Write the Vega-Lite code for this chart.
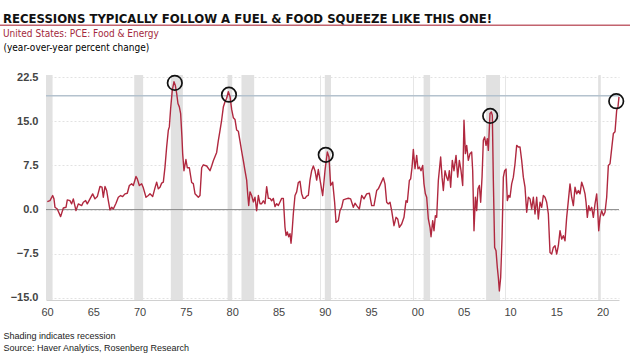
{
  "$schema": "https://vega.github.io/schema/vega-lite/v6.json",
  "autosize": {"type": "none"},
  "width": 573,
  "height": 225,
  "padding": {"left": 46, "top": 75, "right": 11, "bottom": 53},
  "background": "white",
  "config": {
    "view": {"stroke": null},
    "font": "Liberation Sans"
  },
  "title": {
    "text": "RECESSIONS TYPICALLY FOLLOW A FUEL & FOOD SQUEEZE LIKE THIS ONE!",
    "subtitle": "United States: PCE: Food & Energy",
    "anchor": "start",
    "frame": "group",
    "dx": -43,
    "dy": -3,
    "offset": -18,
    "font": "DejaVu Sans Condensed, Roboto, sans-serif",
    "fontSize": 13,
    "fontWeight": "bold",
    "color": "#111111",
    "subtitleFont": "DejaVu Sans Condensed, Roboto, sans-serif",
    "subtitleFontSize": 10,
    "subtitleColor": "#a3283c",
    "subtitlePadding": 3
  },
  "datasets": {
    "pce": [
      {"t": 1960.53, "v": 1.36}, {"t": 1960.82, "v": 1.53}, {"t": 1961.11, "v": 2.39}, {"t": 1961.25, "v": 1.82},
      {"t": 1961.36, "v": 0.39}, {"t": 1961.61, "v": 0.11}, {"t": 1961.97, "v": -1.19}, {"t": 1962.26, "v": 0.28},
      {"t": 1962.55, "v": 0.39}, {"t": 1962.69, "v": 1.65}, {"t": 1962.98, "v": 1.53}, {"t": 1963.16, "v": 0.97},
      {"t": 1963.34, "v": 1.82}, {"t": 1963.63, "v": -0.17}, {"t": 1963.88, "v": 0.97}, {"t": 1964.24, "v": 0.68},
      {"t": 1964.42, "v": 1.25}, {"t": 1964.67, "v": 1.53}, {"t": 1964.85, "v": 0.97}, {"t": 1965.14, "v": 1.82},
      {"t": 1965.43, "v": 2.67}, {"t": 1965.68, "v": 1.82}, {"t": 1965.93, "v": 2.21}, {"t": 1966.22, "v": 3.92},
      {"t": 1966.44, "v": 3.8}, {"t": 1966.58, "v": 2.1}, {"t": 1966.76, "v": 3.92}, {"t": 1966.94, "v": 3.24},
      {"t": 1967.12, "v": 1.53}, {"t": 1967.3, "v": -0.06}, {"t": 1967.48, "v": 0.39}, {"t": 1967.66, "v": 0.11},
      {"t": 1967.95, "v": 1.08}, {"t": 1968.2, "v": 2.1}, {"t": 1968.45, "v": 2.39}, {"t": 1968.67, "v": 2.21},
      {"t": 1968.92, "v": 2.67}, {"t": 1969.17, "v": 2.78}, {"t": 1969.39, "v": 4.09}, {"t": 1969.64, "v": 4.37},
      {"t": 1969.82, "v": 4.09}, {"t": 1970.11, "v": 5.62}, {"t": 1970.25, "v": 5.22}, {"t": 1970.47, "v": 4.09},
      {"t": 1970.72, "v": 4.37}, {"t": 1970.9, "v": 3.69}, {"t": 1971.19, "v": 2.1}, {"t": 1971.44, "v": 2.39},
      {"t": 1971.62, "v": 2.67}, {"t": 1971.91, "v": 2.21}, {"t": 1972.16, "v": 3.69}, {"t": 1972.34, "v": 4.66},
      {"t": 1972.52, "v": 3.52}, {"t": 1972.7, "v": 3.8}, {"t": 1972.88, "v": 4.49}, {"t": 1973.06, "v": 4.66},
      {"t": 1973.24, "v": 7.21}, {"t": 1973.42, "v": 10.62}, {"t": 1973.6, "v": 13.46}, {"t": 1973.71, "v": 14.03},
      {"t": 1973.85, "v": 17.15}, {"t": 1974.03, "v": 20.27}, {"t": 1974.21, "v": 21.69}, {"t": 1974.35, "v": 21.12},
      {"t": 1974.5, "v": 19.71}, {"t": 1974.64, "v": 18.0}, {"t": 1974.79, "v": 17.43}, {"t": 1974.93, "v": 16.3},
      {"t": 1975.07, "v": 12.32}, {"t": 1975.15, "v": 9.5}, {"t": 1975.29, "v": 6.6}, {"t": 1975.5, "v": 8.5},
      {"t": 1975.65, "v": 7.1}, {"t": 1975.87, "v": 7.1}, {"t": 1976.12, "v": 4.6}, {"t": 1976.3, "v": 4.4},
      {"t": 1976.48, "v": 2.7}, {"t": 1976.84, "v": 2.1}, {"t": 1977.02, "v": 2.4}, {"t": 1977.2, "v": 7.1},
      {"t": 1977.38, "v": 7.6}, {"t": 1977.74, "v": 7.4}, {"t": 1978.1, "v": 6.6}, {"t": 1978.28, "v": 7.4},
      {"t": 1978.46, "v": 8.3}, {"t": 1978.82, "v": 9.7}, {"t": 1979.0, "v": 11.7}, {"t": 1979.18, "v": 13.4},
      {"t": 1979.36, "v": 15.2}, {"t": 1979.54, "v": 17.4}, {"t": 1979.72, "v": 18.3}, {"t": 1979.9, "v": 18.9},
      {"t": 1980.08, "v": 20.0}, {"t": 1980.26, "v": 19.2}, {"t": 1980.44, "v": 17.0}, {"t": 1980.62, "v": 15.6},
      {"t": 1980.8, "v": 15.3}, {"t": 1980.98, "v": 13.5}, {"t": 1981.16, "v": 13.3}, {"t": 1981.34, "v": 11.6},
      {"t": 1981.52, "v": 9.9}, {"t": 1981.7, "v": 8.3}, {"t": 1981.88, "v": 6.6}, {"t": 1982.06, "v": 5.0},
      {"t": 1982.17, "v": 2.7}, {"t": 1982.28, "v": 0.7}, {"t": 1982.42, "v": 3.0}, {"t": 1982.6, "v": 2.4},
      {"t": 1982.78, "v": 1.3}, {"t": 1982.96, "v": 2.1}, {"t": 1983.14, "v": -0.2}, {"t": 1983.32, "v": 2.4},
      {"t": 1983.5, "v": 1.0}, {"t": 1983.68, "v": 1.0}, {"t": 1983.86, "v": 1.5}, {"t": 1984.04, "v": 1.0},
      {"t": 1984.22, "v": 3.9}, {"t": 1984.4, "v": 1.9}, {"t": 1984.58, "v": 1.9}, {"t": 1984.76, "v": 1.5},
      {"t": 1984.94, "v": 1.9}, {"t": 1985.12, "v": 0.5}, {"t": 1985.3, "v": 1.0}, {"t": 1985.48, "v": 0.7},
      {"t": 1985.66, "v": 1.3}, {"t": 1985.84, "v": 1.9}, {"t": 1986.02, "v": 1.9}, {"t": 1986.2, "v": -3.0},
      {"t": 1986.31, "v": -4.4}, {"t": 1986.45, "v": -3.8}, {"t": 1986.6, "v": -4.6}, {"t": 1986.74, "v": -4.1},
      {"t": 1986.85, "v": -5.7}, {"t": 1986.95, "v": -4.1}, {"t": 1987.1, "v": -0.7}, {"t": 1987.28, "v": 2.4},
      {"t": 1987.46, "v": 3.0}, {"t": 1987.64, "v": 4.6}, {"t": 1987.82, "v": 4.8}, {"t": 1988.0, "v": 2.7},
      {"t": 1988.18, "v": 1.9}, {"t": 1988.36, "v": 1.9}, {"t": 1988.54, "v": 2.3}, {"t": 1988.72, "v": 2.4},
      {"t": 1988.9, "v": 5.0}, {"t": 1989.08, "v": 6.6}, {"t": 1989.26, "v": 7.4}, {"t": 1989.44, "v": 6.6},
      {"t": 1989.62, "v": 5.0}, {"t": 1989.8, "v": 6.8}, {"t": 1989.98, "v": 5.1}, {"t": 1990.27, "v": 2.39},
      {"t": 1990.52, "v": 6.6}, {"t": 1990.77, "v": 9.77}, {"t": 1990.95, "v": 8.92}, {"t": 1991.13, "v": 4.09},
      {"t": 1991.35, "v": 4.66}, {"t": 1991.56, "v": 1.25}, {"t": 1991.71, "v": -2.16}, {"t": 1991.96, "v": -1.87},
      {"t": 1992.14, "v": -0.17}, {"t": 1992.32, "v": 0.39}, {"t": 1992.5, "v": 1.65}, {"t": 1992.79, "v": 1.82},
      {"t": 1993.04, "v": 1.93}, {"t": 1993.29, "v": 1.82}, {"t": 1993.58, "v": 0.39}, {"t": 1993.76, "v": 1.08},
      {"t": 1993.94, "v": 0.68}, {"t": 1994.23, "v": 0.11}, {"t": 1994.48, "v": 2.39}, {"t": 1994.73, "v": 1.82},
      {"t": 1995.02, "v": 2.67}, {"t": 1995.31, "v": 2.78}, {"t": 1995.56, "v": 0.68}, {"t": 1995.81, "v": 0.68},
      {"t": 1996.1, "v": 3.24}, {"t": 1996.28, "v": 3.52}, {"t": 1996.53, "v": 4.37}, {"t": 1996.82, "v": 5.4},
      {"t": 1997.0, "v": 4.37}, {"t": 1997.18, "v": 1.25}, {"t": 1997.36, "v": 0.97}, {"t": 1997.54, "v": 1.25},
      {"t": 1997.72, "v": -0.17}, {"t": 1997.97, "v": -2.73}, {"t": 1998.19, "v": -1.31}, {"t": 1998.37, "v": -1.59},
      {"t": 1998.55, "v": -3.0}, {"t": 1998.8, "v": -2.44}, {"t": 1999.05, "v": -1.31}, {"t": 1999.27, "v": 1.53},
      {"t": 1999.41, "v": 1.25}, {"t": 1999.63, "v": 4.94}, {"t": 1999.77, "v": 5.22}, {"t": 1999.92, "v": 7.21},
      {"t": 2000.06, "v": 10.22}, {"t": 2000.24, "v": 6.93}, {"t": 2000.42, "v": 9.2}, {"t": 2000.56, "v": 6.93},
      {"t": 2000.71, "v": 7.21}, {"t": 2000.89, "v": 6.6}, {"t": 2001.07, "v": 7.5}, {"t": 2001.21, "v": 4.37},
      {"t": 2001.36, "v": 2.67}, {"t": 2001.5, "v": 2.1}, {"t": 2001.68, "v": -1.59}, {"t": 2001.86, "v": -3.0},
      {"t": 2001.97, "v": -4.6}, {"t": 2002.15, "v": -1.87}, {"t": 2002.29, "v": -3.58}, {"t": 2002.44, "v": -1.02},
      {"t": 2002.58, "v": -1.31}, {"t": 2002.76, "v": 4.94}, {"t": 2003.01, "v": 8.92}, {"t": 2003.16, "v": 5.51},
      {"t": 2003.3, "v": 3.24}, {"t": 2003.48, "v": 6.6}, {"t": 2003.66, "v": 5.51}, {"t": 2003.8, "v": 4.94},
      {"t": 2003.95, "v": 6.6}, {"t": 2004.09, "v": 3.8}, {"t": 2004.27, "v": 8.35}, {"t": 2004.45, "v": 6.6},
      {"t": 2004.67, "v": 9.2}, {"t": 2004.85, "v": 5.51}, {"t": 2005.03, "v": 8.35}, {"t": 2005.21, "v": 6.6},
      {"t": 2005.39, "v": 4.09}, {"t": 2005.53, "v": 15.16}, {"t": 2005.68, "v": 9.49}, {"t": 2005.82, "v": 10.9},
      {"t": 2006.0, "v": 8.35}, {"t": 2006.18, "v": 9.49}, {"t": 2006.36, "v": 9.77}, {"t": 2006.47, "v": 6.6},
      {"t": 2006.61, "v": -3.58}, {"t": 2006.76, "v": 2.1}, {"t": 2006.9, "v": -0.17}, {"t": 2007.04, "v": 3.52},
      {"t": 2007.19, "v": 4.09}, {"t": 2007.33, "v": 1.25}, {"t": 2007.48, "v": 5.51}, {"t": 2007.62, "v": 11.75},
      {"t": 2007.76, "v": 12.32}, {"t": 2007.91, "v": 10.9}, {"t": 2008.05, "v": 12.03}, {"t": 2008.16, "v": 10.05},
      {"t": 2008.34, "v": 16.3}, {"t": 2008.48, "v": 16.58}, {"t": 2008.59, "v": 16.0}, {"t": 2008.7, "v": 4.94},
      {"t": 2008.84, "v": -6.42}, {"t": 2008.99, "v": -7.0}, {"t": 2009.13, "v": -9.82}, {"t": 2009.24, "v": -11.53},
      {"t": 2009.35, "v": -13.8}, {"t": 2009.49, "v": -11.53}, {"t": 2009.64, "v": -4.71}, {"t": 2009.78, "v": 5.51},
      {"t": 2009.92, "v": 6.6}, {"t": 2010.07, "v": 6.87}, {"t": 2010.21, "v": 1.53}, {"t": 2010.36, "v": 2.39},
      {"t": 2010.5, "v": 2.1}, {"t": 2010.68, "v": 4.37}, {"t": 2010.86, "v": 5.51}, {"t": 2011.04, "v": 7.78},
      {"t": 2011.22, "v": 10.9}, {"t": 2011.4, "v": 10.62}, {"t": 2011.58, "v": 10.62}, {"t": 2011.76, "v": 8.35},
      {"t": 2011.94, "v": 5.51}, {"t": 2012.12, "v": 3.8}, {"t": 2012.3, "v": -0.45}, {"t": 2012.48, "v": 2.1},
      {"t": 2012.66, "v": 1.82}, {"t": 2012.84, "v": 0.11}, {"t": 2013.02, "v": 2.1}, {"t": 2013.2, "v": -0.74},
      {"t": 2013.38, "v": 2.1}, {"t": 2013.56, "v": -1.59}, {"t": 2013.74, "v": 1.25}, {"t": 2013.92, "v": 0.39},
      {"t": 2014.1, "v": 2.39}, {"t": 2014.28, "v": 2.1}, {"t": 2014.46, "v": 1.25}, {"t": 2014.64, "v": -0.74},
      {"t": 2014.82, "v": -7.27}, {"t": 2015.0, "v": -7.55}, {"t": 2015.18, "v": -6.42}, {"t": 2015.36, "v": -6.13},
      {"t": 2015.54, "v": -7.55}, {"t": 2015.72, "v": -6.13}, {"t": 2015.9, "v": -3.58}, {"t": 2016.08, "v": -5.0},
      {"t": 2016.26, "v": -4.43}, {"t": 2016.44, "v": -5.28}, {"t": 2016.62, "v": -1.31}, {"t": 2016.8, "v": 1.53},
      {"t": 2016.98, "v": 4.37}, {"t": 2017.16, "v": 2.1}, {"t": 2017.34, "v": 0.68}, {"t": 2017.52, "v": 3.8},
      {"t": 2017.7, "v": 2.67}, {"t": 2017.88, "v": 3.24}, {"t": 2018.06, "v": 2.67}, {"t": 2018.24, "v": 4.66},
      {"t": 2018.42, "v": 3.8}, {"t": 2018.6, "v": 2.67}, {"t": 2018.71, "v": 1.25}, {"t": 2018.85, "v": -1.31},
      {"t": 2019.0, "v": 0.68}, {"t": 2019.14, "v": -0.17}, {"t": 2019.32, "v": 0.39}, {"t": 2019.5, "v": -1.31},
      {"t": 2019.68, "v": 0.97}, {"t": 2019.86, "v": 2.67}, {"t": 2019.97, "v": -0.17}, {"t": 2020.08, "v": -3.58},
      {"t": 2020.22, "v": -1.31}, {"t": 2020.4, "v": -0.17}, {"t": 2020.58, "v": -1.02}, {"t": 2020.76, "v": -0.45},
      {"t": 2020.94, "v": 2.1}, {"t": 2021.12, "v": 7.5}, {"t": 2021.3, "v": 7.78}, {"t": 2021.48, "v": 10.34},
      {"t": 2021.66, "v": 12.9}, {"t": 2021.84, "v": 13.2}, {"t": 2022.02, "v": 16.87}, {"t": 2022.16, "v": 17.43},
      {"t": 2022.27, "v": 19.14}
    ],
    "recessions": [
      {"start": 1960.39, "end": 1961.1},
      {"start": 1969.92, "end": 1970.88},
      {"start": 1973.87, "end": 1975.17},
      {"start": 1980.0, "end": 1980.5},
      {"start": 1981.5, "end": 1982.87},
      {"start": 1990.5, "end": 1991.17},
      {"start": 2001.17, "end": 2001.87},
      {"start": 2007.92, "end": 2009.42},
      {"start": 2020.08, "end": 2020.3}
    ],
    "peaks": [
      {"t": 1974.3, "v": 21.5},
      {"t": 1980.15, "v": 19.5},
      {"t": 1990.6, "v": 9.3},
      {"t": 2008.36, "v": 15.9},
      {"t": 2021.97, "v": 18.4}
    ]
  },
  "resolve": {"axis": {"x": "independent", "y": "independent"}},
  "layer": [
    {
      "data": {"name": "recessions"},
      "mark": {"type": "rect", "color": "#e1e1e1"},
      "encoding": {
        "x": {
          "field": "start", "type": "quantitative",
          "scale": {"domain": [1960.39, 2022.27], "nice": false, "zero": false},
          "axis": {
            "orient": "top", "values": [1970, 1980, 1990, 2000, 2010, 2020],
            "grid": true, "gridColor": "#e6e6e6", "gridWidth": 1,
            "labels": false, "ticks": false, "domain": false, "title": null
          }
        },
        "x2": {"field": "end"}
      }
    },
    {
      "data": {"values": [{}]},
      "mark": {"type": "rule", "color": "#888888", "strokeWidth": 1},
      "encoding": {
        "y": {"datum": 0, "type": "quantitative", "scale": {"domain": [-15.34, 22.84], "nice": false, "zero": false}, "axis": null}
      }
    },
    {
      "data": {"values": [{}]},
      "mark": {"type": "rule", "color": "#b4c2ce", "strokeWidth": 1.5},
      "encoding": {
        "y": {"datum": 19.3, "type": "quantitative", "axis": null}
      }
    },
    {
      "data": {"values": [{}]},
      "mark": {"type": "rule", "color": "#c2636e", "strokeWidth": 1.5, "clip": false},
      "encoding": {
        "x": {"datum": 1955.42, "type": "quantitative", "axis": null},
        "x2": {"datum": 2023.46},
        "y": {"datum": 31.3, "type": "quantitative", "axis": null}
      }
    },
    {
      "data": {"name": "pce"},
      "mark": {"type": "line", "color": "#b0283f", "strokeWidth": 1.4, "strokeJoin": "round"},
      "encoding": {
        "x": {
          "field": "t", "type": "quantitative",
          "axis": {
            "values": [1960.5, 1965.5, 1970.5, 1975.5, 1980.5, 1985.5, 1990.5, 1995.5, 2000.5, 2005.5, 2010.5, 2015.5, 2020.5],
            "labelExpr": "slice(toString(floor(datum.value)), 2)",
            "grid": false, "ticks": false,
            "domain": true, "domainColor": "#d0d0d0", "domainWidth": 1,
            "labelFont": "Liberation Sans", "labelFontSize": 11, "labelColor": "#444444", "labelPadding": 6,
            "title": ["Shading indicates recession", "Source: Haver Analytics, Rosenberg Research"],
            "titleFont": "Liberation Sans", "titleFontSize": 9, "titleFontWeight": "normal", "titleColor": "#222222",
            "titleAlign": "left", "titleAnchor": "start", "titleBaseline": "alphabetic",
            "titleX": -43, "titleY": 38, "titleLineHeight": 12
          }
        },
        "y": {
          "field": "v", "type": "quantitative",
          "axis": {
            "values": [-15, -7.5, 0, 7.5, 15, 22.5],
            "format": ".1f",
            "grid": true, "gridColor": "#e2e2e2", "gridDash": [2, 2], "gridWidth": 1,
            "ticks": false, "domain": false,
            "labelFont": "Liberation Sans", "labelFontSize": 11, "labelFontWeight": "bold", "labelColor": "#444444", "labelPadding": 8,
            "title": "(year-over-year percent change)",
            "titleFont": "DejaVu Sans Condensed, Roboto, sans-serif", "titleFontSize": 10, "titleFontWeight": "normal", "titleColor": "#000000",
            "titleAngle": 0, "titleAlign": "left", "titleBaseline": "alphabetic",
            "titleX": -43, "titleY": -25
          }
        }
      }
    },
    {
      "data": {"name": "peaks"},
      "mark": {"type": "point", "shape": "circle", "filled": false, "stroke": "#111111", "strokeWidth": 1.7, "size": 210, "opacity": 1},
      "encoding": {
        "x": {"field": "t", "type": "quantitative", "axis": null},
        "y": {"field": "v", "type": "quantitative", "axis": null}
      }
    }
  ]
}
